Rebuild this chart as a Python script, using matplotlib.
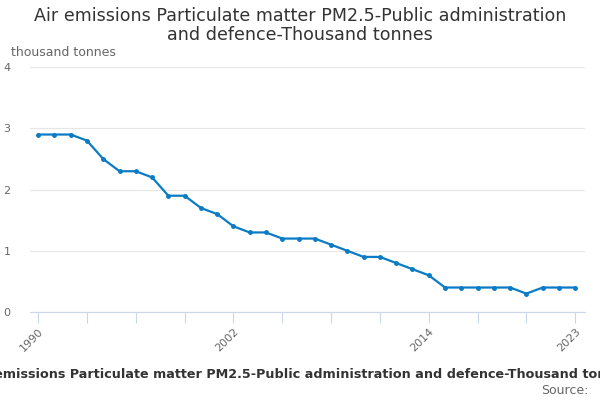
import matplotlib
matplotlib.use('Agg')
import matplotlib.pyplot as plt

years = list(range(1990, 2024))
values = [2.9, 2.9, 2.9, 2.8, 2.5, 2.3, 2.3, 2.2, 1.9, 1.9,
          1.7, 1.6, 1.4, 1.3, 1.3, 1.2, 1.2, 1.2, 1.1, 1.0,
          0.9, 0.9, 0.8, 0.7, 0.6, 0.4, 0.4, 0.4, 0.4, 0.4,
          0.3, 0.4, 0.4, 0.4]
label_years = [1990, 2002, 2014, 2023]
yticks = [0, 1, 2, 3, 4]

title = "Air emissions Particulate matter PM2.5-Public administration\nand defence-Thousand tonnes"
caption = "Air emissions Particulate matter PM2.5-Public administration and defence-Thousand tonnes"

plt.rcParams['font.family'] = ['DejaVu Sans']

fig = plt.figure(figsize=(6, 4), dpi=100)
ax = fig.add_axes([0.05, 0.22, 0.925, 0.612])

ax.plot(years, values, color='#0a7bc4', linewidth=1.6, marker='o', markersize=2.5)

ax.set_xlim(1989.5, 2023.6)
ax.set_ylim(0, 4)
ax.set_yticks(yticks)
ax.yaxis.grid(True, color='#e6e6e6', linewidth=0.8)
ax.set_axisbelow(True)

tick_years = list(range(1990, 2024, 3))
ax.set_xticks(tick_years)
ax.set_xticklabels([str(y) if y in label_years else '' for y in tick_years],
                   rotation=45, ha='right', rotation_mode='anchor', color='#666666', fontsize=8)
ax.tick_params(axis='x', length=8, color='#ccd6eb', pad=2)
ax.tick_params(axis='y', length=0, labelcolor='#666666', labelsize=8, pad=19)
for lab in ax.get_yticklabels():
    lab.set_horizontalalignment('left')

for s in ['top', 'right', 'left']:
    ax.spines[s].set_visible(False)
ax.spines['bottom'].set_color('#ccd6eb')

fig.text(0.5, 0.982, title, ha='center', va='top', fontsize=12.6, color='#333333', linespacing=1.05)
fig.text(0.018, 0.852, 'thousand tonnes', fontsize=9, color='#666666', va='bottom')
fig.text(0.5, 0.065, caption, ha='center', va='center', fontsize=9.2, fontweight='bold', color='#333333')
fig.text(0.98, 0.025, 'Source:', ha='right', va='center', fontsize=9, color='#666666')

fig.savefig('out.png', dpi=100)
